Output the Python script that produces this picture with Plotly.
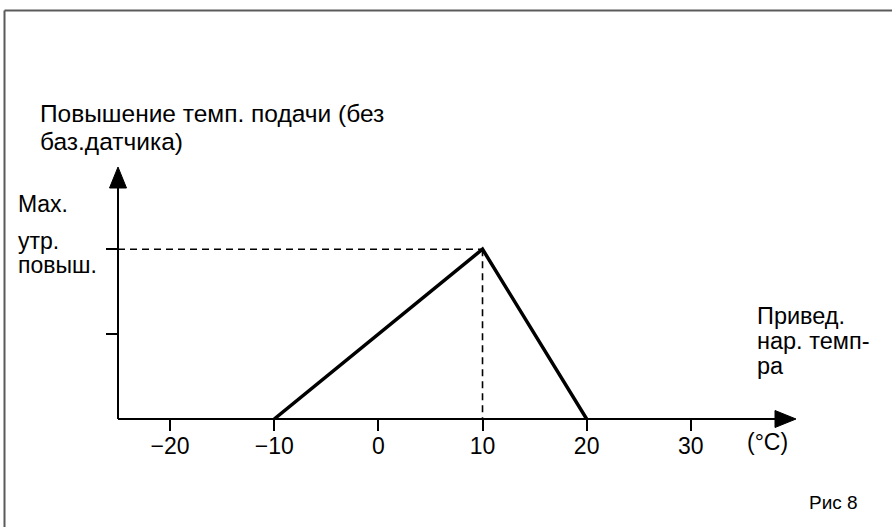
import plotly.graph_objects as go

# ---- data ----
curve_x = [-10, 10, 20]          # reduced outdoor temperature (°C)
curve_y = [0, 1, 0]              # flow temperature raise (fraction of max)
x_tick_vals = [-20, -10, 0, 10, 20, 30]
y_tick_vals = [0.5, 1]
peak_x = 10
peak_y = 1

# ---- geometry ----
W, H = 892, 527
ML, MR, MT, MB = 118, 96, 167, 108
X_MIN, X_MAX = -25, 40.1
Y_MIN, Y_MAX = 0, 1.484
PW = W - ML - MR
PH = H - MT - MB

def px(xp):
    return (xp - ML) / PW

def py(yp):
    return (H - MB - yp) / PH

FONT = "Liberation Sans, Arial, sans-serif"

fig = go.Figure()

fig.add_trace(go.Scatter(x=curve_x, y=curve_y, mode="lines",
                         line=dict(color="black", width=3.5),
                         hoverinfo="skip", showlegend=False, cliponaxis=False))

shapes = []
shapes.append(dict(type="line", xref="x", yref="y", x0=X_MIN, y0=peak_y, x1=peak_x, y1=peak_y,
                   line=dict(color="black", width=1.6, dash="7px,5px")))
shapes.append(dict(type="line", xref="x", yref="y", x0=peak_x, y0=peak_y, x1=peak_x, y1=Y_MIN,
                   line=dict(color="black", width=1.6, dash="7px,5px")))
shapes.append(dict(type="line", xref="paper", yref="paper", x0=0, y0=0, x1=px(W - MR - 12), y1=0,
                   line=dict(color="black", width=2)))
shapes.append(dict(type="line", xref="paper", yref="paper", x0=0, y0=0, x1=0, y1=py(MT + 12),
                   line=dict(color="black", width=2)))
al, aw = 21, 8.5
tipx, tipy = ML, MT
shapes.append(dict(type="path", xref="paper", yref="paper",
                   path=f"M {px(tipx - aw)} {py(tipy + al)} L {px(tipx)} {py(tipy)} L {px(tipx + aw)} {py(tipy + al)} Z",
                   fillcolor="black", line=dict(color="black", width=1)))
tipx, tipy = W - MR, H - MB
shapes.append(dict(type="path", xref="paper", yref="paper",
                   path=f"M {px(tipx - al)} {py(tipy - aw)} L {px(tipx)} {py(tipy)} L {px(tipx - al)} {py(tipy + aw)} Z",
                   fillcolor="black", line=dict(color="black", width=1)))
shapes.append(dict(type="line", xref="paper", yref="paper", x0=px(4.5), y0=py(10.5), x1=px(W + 5), y1=py(10.5),
                   line=dict(color="#5a5a5a", width=2)))
shapes.append(dict(type="line", xref="paper", yref="paper", x0=px(4.5), y0=py(10.5), x1=px(4.5), y1=py(H + 5),
                   line=dict(color="#5a5a5a", width=2)))

def ann(text, xp, yp, size):
    return dict(text=text, xref="paper", yref="paper", x=px(xp), y=py(yp),
                xanchor="left", yanchor="middle", align="left", showarrow=False,
                font=dict(family=FONT, size=size, color="black"))

annotations = [
    ann("Повышение темп. подачи (без", 38, 113, 24.5),
    ann("баз.датчика)", 38, 142, 24.5),
    ann("Max.", 16, 204, 23),
    ann("утр.", 16, 241, 23),
    ann("повыш.", 16, 265, 23),
    ann("Привед.", 755, 316, 23.5),
    ann("нар. темп-", 755, 341, 23.5),
    ann("ра", 755, 366, 23.5),
    ann("(°C)", 745, 442, 23),
    ann("Рис 8", 807, 502, 19),
]

fig.update_layout(
    width=W, height=H,
    margin=dict(l=ML, r=MR, t=MT, b=MB, pad=0),
    paper_bgcolor="white", plot_bgcolor="white",
    shapes=shapes, annotations=annotations,
    xaxis=dict(range=[X_MIN, X_MAX], tickvals=x_tick_vals, ticks="outside", ticklen=11,
               tickwidth=1.5, tickcolor="black", showline=False, showgrid=False, zeroline=False,
               ticklabelstandoff=-5,
               tickfont=dict(family=FONT, size=23, color="black"), fixedrange=True),
    yaxis=dict(range=[Y_MIN, Y_MAX], tickvals=y_tick_vals, ticks="outside", ticklen=11,
               tickwidth=1.5, tickcolor="black", showticklabels=False, showline=False,
               showgrid=False, zeroline=False, fixedrange=True),
    showlegend=False,
)

fig.write_html("out.html", config={"displayModeBar": False},
               post_script="document.body.style.margin='0px';")
